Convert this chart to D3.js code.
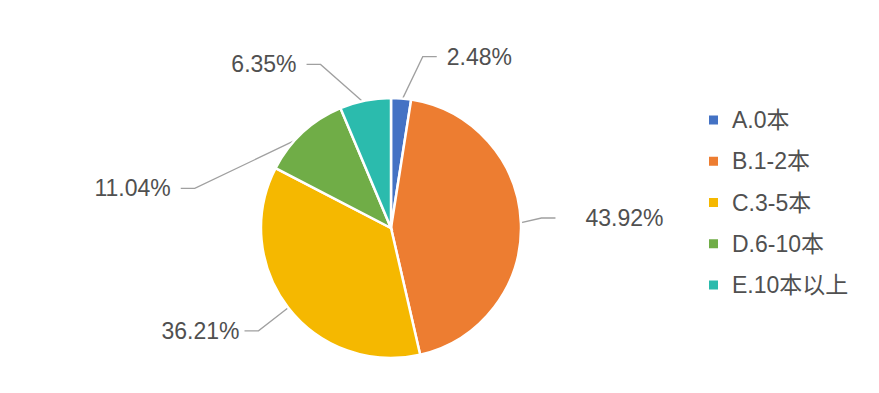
<!DOCTYPE html>
<html>

<head>
    <meta charset="utf-8">
    <title>D3 JS</title>
    <style>
        body {
            margin: 0;
            background: #fff;
        }

        text {
            font-family: "Liberation Sans", Arial, "Noto Sans CJK SC", sans-serif;
            fill: #505050;
        }

        .leader {
            fill: none;
            stroke: #a0a0a0;
            stroke-width: 1.3px;
        }
    </style>

    <script src="https://d3js.org/d3.v7.min.js"></script>

</head>

<body>
    <script>
        var categories = ["A.0本", "B.1-2本", "C.3-5本", "D.6-10本", "E.10本以上"];
        var values = [2.48, 43.92, 36.21, 11.04, 6.35];
        var colors = ["#4472c4", "#ed7d31", "#f5b800", "#70ad47", "#2bbbad"];

        // where each label's leader bends: [angle in degrees from 12 o'clock, radius factor, gap to text]
        var labelAt = [[10.5, 1.34, 10], [86.2, 1.16, 30], [232.2, 1.29, 5], [281.4, 1.54, 10], [336.7, 1.37, 10]];

        var w = 879;
        var h = 393;
        var cx = 391, cy = 228, r = 130;

        var svg = d3.select("body").append("svg")
            .attr("width", w)
            .attr("height", h);

        var pie = d3.pie().sort(null).value(function (d) { return d; });
        var arcs = pie(values);

        var arc = d3.arc().innerRadius(0).outerRadius(r);

        var g = svg.append("g").attr("transform", "translate(" + cx + "," + cy + ")");

        function polar(a, rad) {
            return [rad * Math.sin(a), -rad * Math.cos(a)];
        }

        // leader lines + labels
        arcs.forEach(function (d, i) {
            var mid = (d.startAngle + d.endAngle) / 2;
            var p0 = polar(mid, r - 4);
            var la = labelAt[i];
            var p1 = polar(la[0] * Math.PI / 180, r * la[1]);
            var right = p1[0] > 0;
            var p2 = [p1[0] + (right ? 14 : -14), p1[1]];
            g.append("path")
                .attr("class", "leader")
                .attr("d", d3.line()([p0, p1, p2]));
            g.append("text")
                .attr("x", p2[0] + (right ? la[2] : -la[2]))
                .attr("y", p2[1])
                .attr("dy", "0.35em")
                .attr("text-anchor", right ? "start" : "end")
                .style("font-size", "23px")
                .text(d.value.toFixed(2) + "%");
        });

        g.selectAll("path.slice")
            .data(arcs)
            .enter()
            .append("path")
            .attr("class", "slice")
            .attr("d", arc)
            .style("fill", function (d, i) { return colors[i]; })
            .style("stroke", "#fff")
            .style("stroke-width", 2.5);

        // legend
        var ly = d3.scalePoint().domain(categories).range([120, 285]);
        var legend = svg.selectAll("g.legend")
            .data(categories)
            .enter()
            .append("g")
            .attr("class", "legend")
            .attr("transform", function (d) { return "translate(709," + ly(d) + ")"; });

        legend.append("rect")
            .attr("x", 0)
            .attr("y", -4.5)
            .attr("width", 9)
            .attr("height", 9)
            .style("fill", function (d, i) { return colors[i]; });

        legend.append("text")
            .attr("x", 23)
            .attr("dy", "0.35em")
            .style("font-size", "23px")
            .text(function (d) { return d; });
    </script>

</body>

</html>
